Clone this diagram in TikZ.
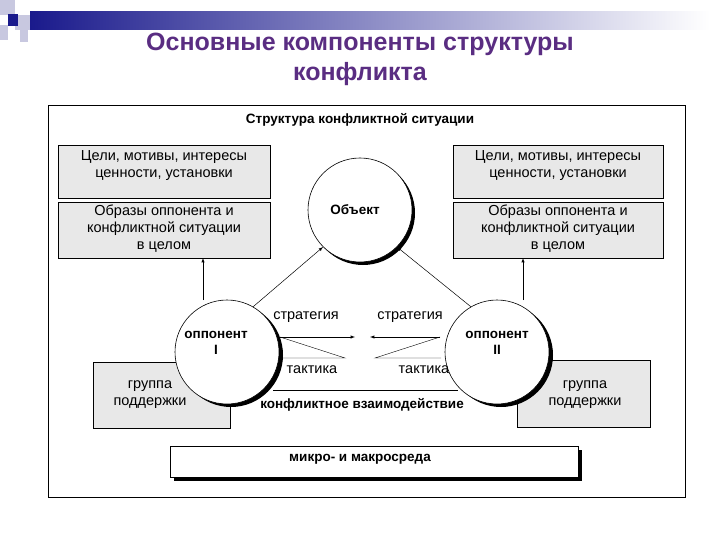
\documentclass[tikz,border=0pt]{standalone}
\usepackage{fontspec}
\setmainfont{Liberation Sans}
\definecolor{titlec}{HTML}{5A2D82}
\definecolor{boxg}{HTML}{E8E8E8}
\definecolor{dblue}{HTML}{1A1A8C}
\definecolor{lav}{HTML}{C8C8E0}
\begin{document}
\begin{tikzpicture}[x=1pt,y=-1pt,
  gbox/.style={draw,fill=boxg,line width=0.6pt},
  circ/.style={draw,fill=white,circle,line width=0.6pt},
  txt/.style={font=\fontsize{14.5}{17}\selectfont,align=center},
  btxt/.style={font=\bfseries\fontsize{13.5}{16}\selectfont,align=center},
  arr/.style={-latex,line width=0.5pt}]
\useasboundingbox (0,0) rectangle (720,540);
% decoration
\fill[lav] (0,0) rectangle (15,15);
\fill[lav] (15,15) rectangle (30,30);
\fill[lav] (0,25) rectangle (8,40);
\fill[lav] (20,30) rectangle (28,42);
\shade[left color=dblue,right color=white] (30,12) rectangle (710,30);
\fill[dblue] (8,14) rectangle (18,26);
% title
\node[text=titlec,font=\bfseries\fontsize{25}{30}\selectfont,align=center] (title) at (360,59) {Основные компоненты структуры\\конфликта};
% frame
\draw[line width=0.6pt] (48,105) rectangle (685,497);
\node[btxt] (head) at (360,120) {Структура конфликтной ситуации};
% boxes
\draw[gbox] (58,145) rectangle (270,198);
\node[txt] (l1) at (164,166) {Цели, мотивы, интересы\\ценности, установки};
\draw[gbox] (58,202) rectangle (270,258);
\node[txt] (l2) at (164,229) {Образы оппонента и\\конфликтной ситуации\\в целом};
\draw[gbox] (453,145) rectangle (663,198);
\node[txt] (r1) at (558,166) {Цели, мотивы, интересы\\ценности, установки};
\draw[gbox] (453,202) rectangle (663,258);
\node[txt] (r2) at (558,229) {Образы оппонента и\\конфликтной ситуации\\в целом};
\draw[gbox] (93,362) rectangle (230,428);
\draw[gbox] (517,360) rectangle (650,427);
\node[txt] (g1) at (150,395) {группа\\поддержки};
\node[txt] (g2) at (585,395) {группа\\поддержки};
% micro box
\fill (174,450) rectangle (582,481);
\draw[fill=white,line width=0.6pt] (170,446) rectangle (578,477);
\node[btxt] (micro) at (360,459) {микро- и макросреда};
% circles with shadows
\fill (363,213) circle (52);
\node[circ,minimum size=104pt,inner sep=0pt] (obj) at (360,210) {};
\node[btxt] at (355,210) {Объект};
\fill (231,355) circle (52);
\node[circ,minimum size=104pt,inner sep=0pt] (o1) at (227,352) {};
\node[btxt] at (216,343) {оппонент\\I};
\fill (501,355) circle (52);
\node[circ,minimum size=104pt,inner sep=0pt] (o2) at (497,352) {};
\node[btxt] at (497,343) {оппонент\\II};
% arrows
\draw[arr] (203,300) -- (203,258);
\draw[arr] (523,300) -- (523,258);
\draw[arr] (o1.60) -- (obj.225);
\draw[arr] (o2.120) -- (obj.315);
\coordinate (s1) at (355,337);
\coordinate (s2) at (370,337);
\draw[arr] (280,337) -- (s1);
\draw[arr] (440,337) -- (s2);
\draw (280,337) -- (345,358) -- (279,358);
\draw (440,337) -- (375,358) -- (441,358);
\node[txt] (st1) at (306,317) {стратегия};
\node[txt] (st2) at (410,317) {стратегия};
\node[txt] (t1) at (312,370) {тактика};
\node[txt] (t2) at (424,370) {тактика};
\draw (273,390) -- (458,390);
\node[btxt] (ci) at (362,405) {конфликтное взаимодействие};
\end{tikzpicture}
\end{document}
